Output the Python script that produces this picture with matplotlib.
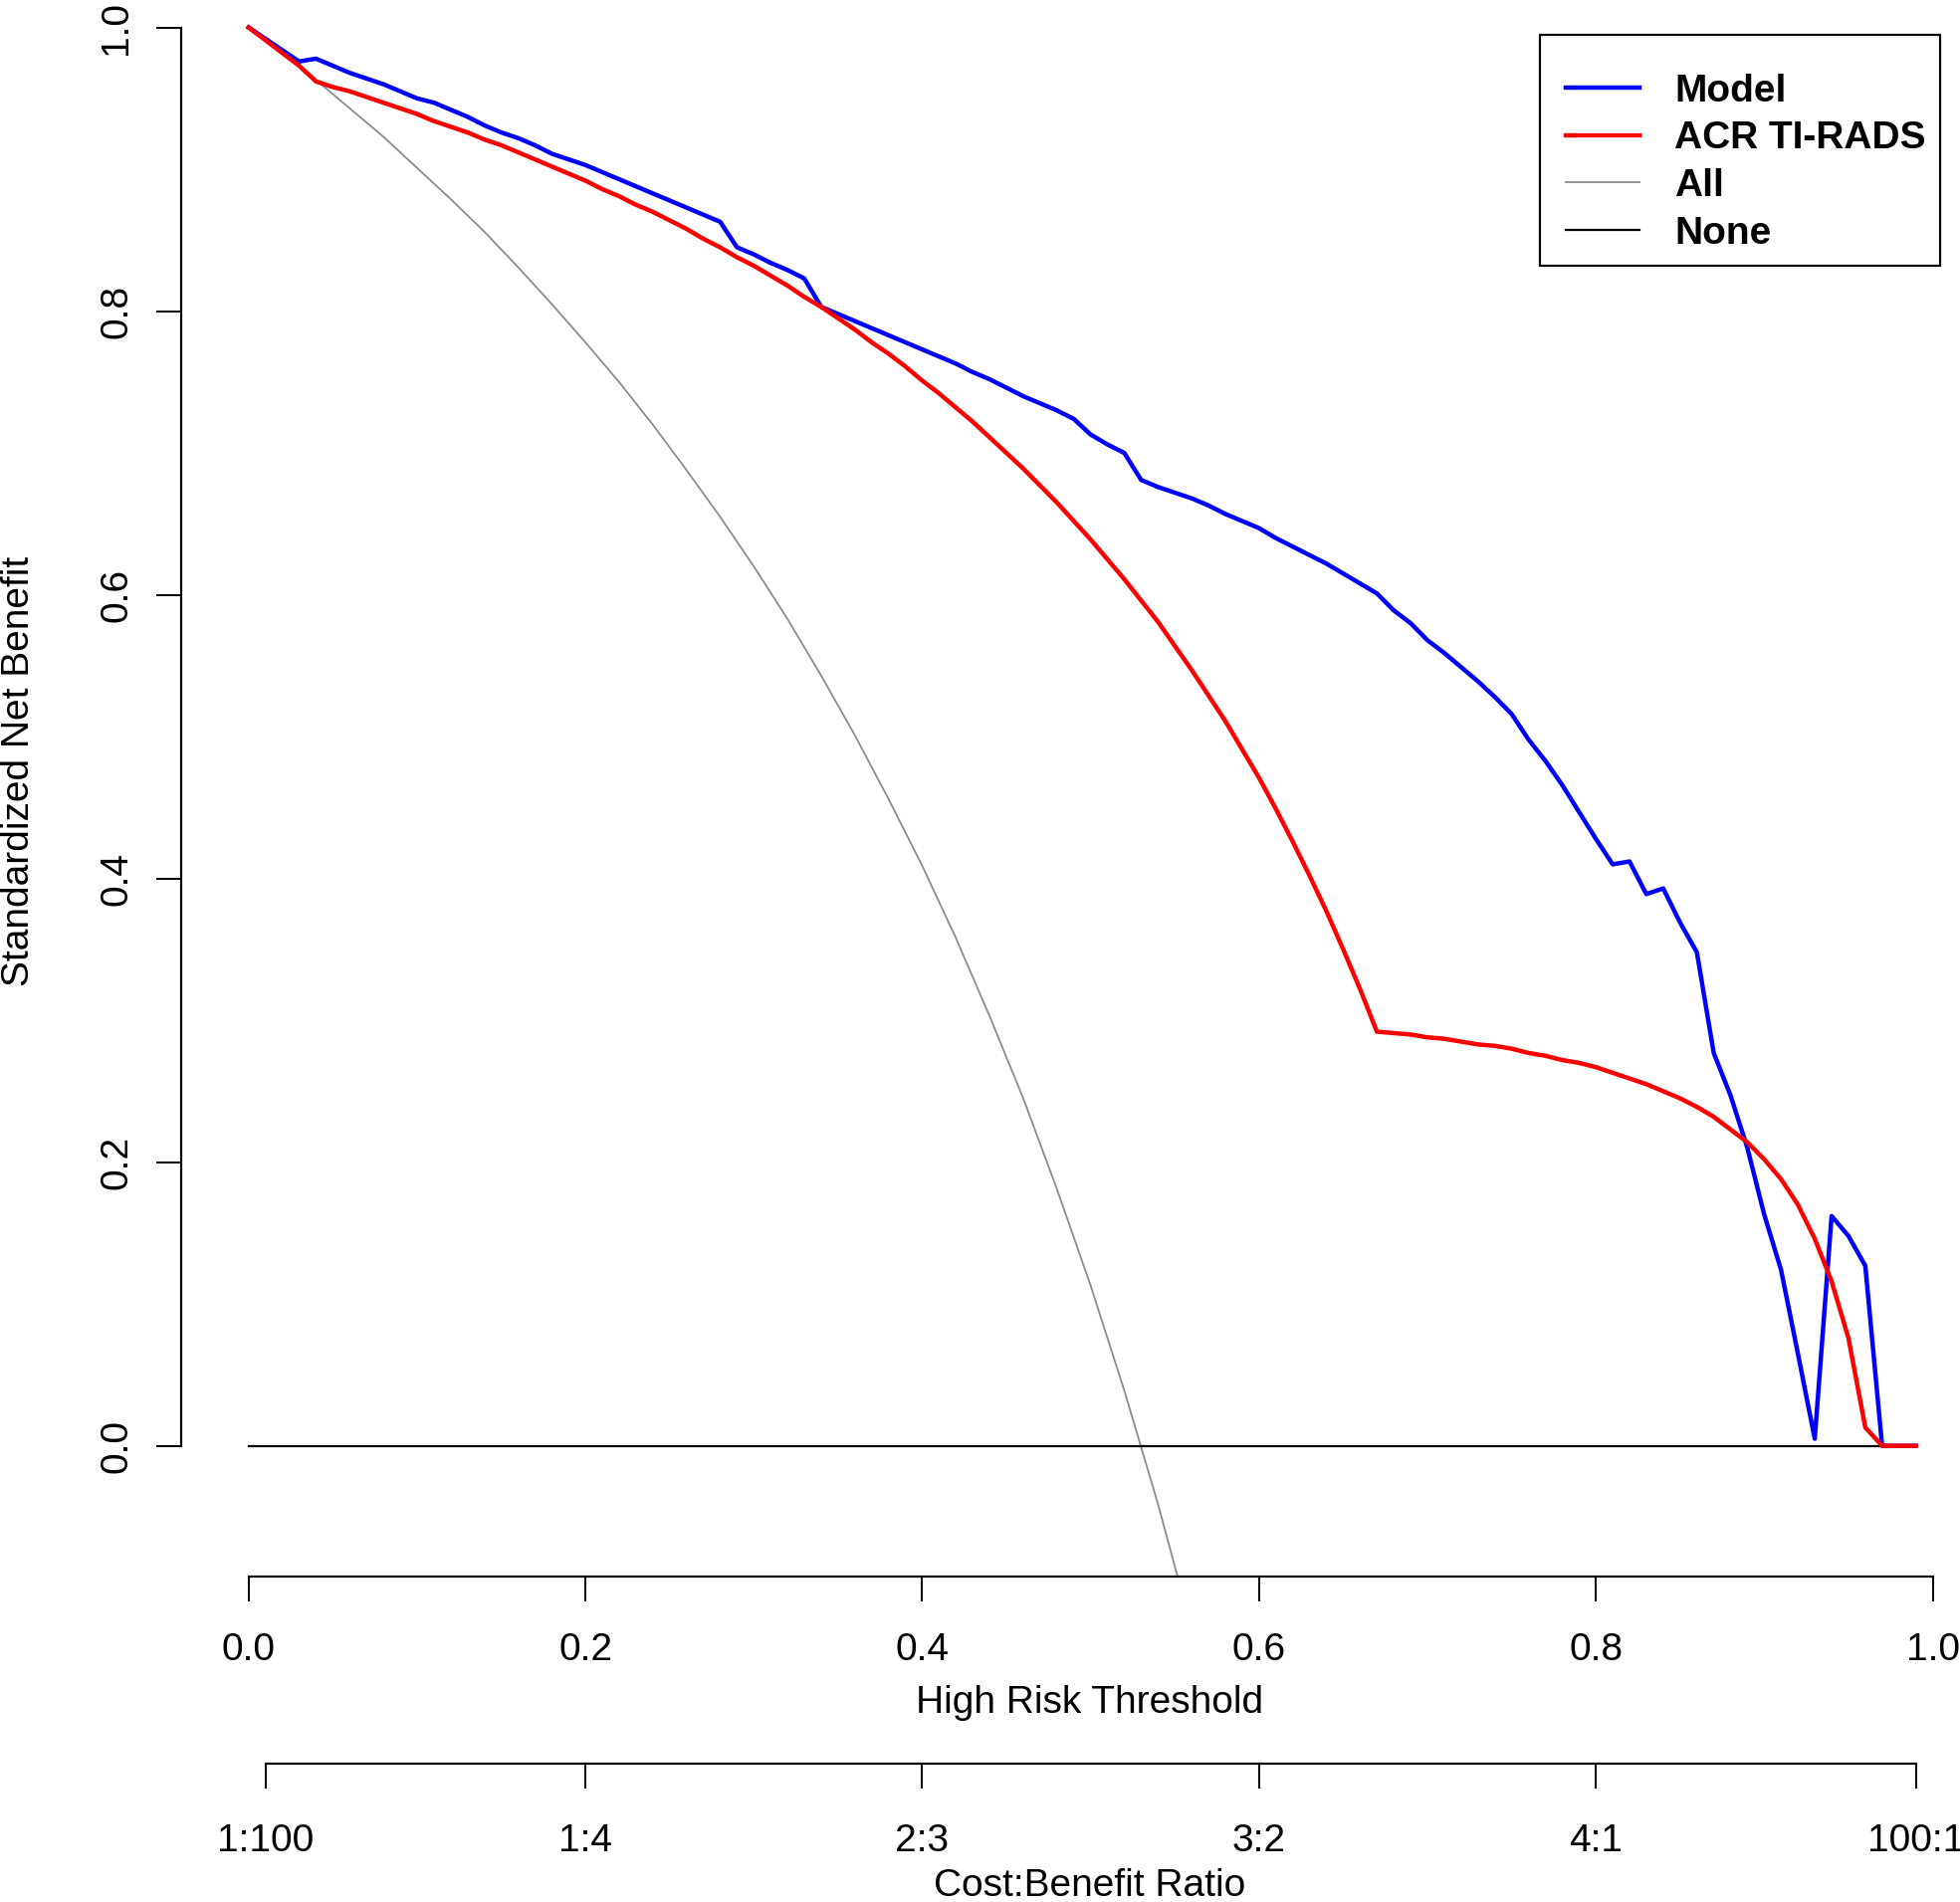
import numpy as np
import matplotlib.pyplot as plt
from matplotlib.patches import Rectangle

plt.rcParams['font.family'] = ['Liberation Sans', 'DejaVu Sans']

# thresholds used by the decision curves (0.00 .. 0.99)
thresholds = np.round(np.arange(0, 1.0, 0.01), 2)

model_nb = [1.000, 0.992, 0.984, 0.976, 0.978, 0.973, 0.968, 0.964, 0.960, 0.955,
            0.950, 0.947, 0.942, 0.937, 0.931, 0.926, 0.922, 0.917, 0.911, 0.907,
            0.903, 0.898, 0.893, 0.888, 0.883, 0.878, 0.873, 0.868, 0.863, 0.845,
            0.840, 0.834, 0.829, 0.823, 0.803, 0.798, 0.793, 0.788, 0.783, 0.778,
            0.773, 0.768, 0.763, 0.757, 0.752, 0.746, 0.740, 0.735, 0.730, 0.724,
            0.713, 0.706, 0.700, 0.681, 0.676, 0.672, 0.668, 0.663, 0.657, 0.652,
            0.647, 0.640, 0.634, 0.628, 0.622, 0.615, 0.608, 0.601, 0.589, 0.580,
            0.568, 0.559, 0.549, 0.539, 0.528, 0.516, 0.498, 0.483, 0.466, 0.447,
            0.428, 0.410, 0.412, 0.389, 0.393, 0.369, 0.348, 0.277, 0.247, 0.210,
            0.163, 0.124, 0.065, 0.005, 0.162, 0.148, 0.127, 0.000, 0.000, 0.000]

acr_nb = [1.000, 0.991, 0.982, 0.973, 0.962, 0.958, 0.955, 0.951, 0.947, 0.943,
          0.939, 0.934, 0.930, 0.926, 0.921, 0.917, 0.912, 0.907, 0.902, 0.897,
          0.892, 0.886, 0.881, 0.875, 0.870, 0.864, 0.858, 0.851, 0.845, 0.838,
          0.832, 0.825, 0.818, 0.810, 0.803, 0.795, 0.787, 0.778, 0.770, 0.761,
          0.751, 0.742, 0.732, 0.722, 0.711, 0.700, 0.689, 0.677, 0.665, 0.652,
          0.639, 0.625, 0.611, 0.596, 0.581, 0.564, 0.547, 0.529, 0.511, 0.491,
          0.471, 0.449, 0.426, 0.402, 0.377, 0.350, 0.322, 0.292, 0.291, 0.290,
          0.288, 0.287, 0.285, 0.283, 0.282, 0.280, 0.277, 0.275, 0.272, 0.270,
          0.267, 0.263, 0.259, 0.255, 0.250, 0.245, 0.239, 0.232, 0.223, 0.214,
          0.202, 0.188, 0.170, 0.146, 0.116, 0.076, 0.013, 0.000, 0.000, 0.000]

all_thresholds = [0.00, 0.02, 0.04, 0.06, 0.08, 0.10, 0.12, 0.14, 0.16, 0.18,
                  0.20, 0.22, 0.24, 0.26, 0.28, 0.30, 0.32, 0.34, 0.36, 0.38,
                  0.40, 0.42, 0.44, 0.46, 0.48, 0.50, 0.52, 0.54, 0.56]
all_nb = [1.000, 0.982, 0.963, 0.943, 0.923, 0.901, 0.879, 0.856, 0.831, 0.805,
          0.778, 0.750, 0.720, 0.688, 0.655, 0.620, 0.583, 0.543, 0.501, 0.456,
          0.409, 0.358, 0.303, 0.245, 0.181, 0.113, 0.039, -0.041, -0.129]

none_thresholds = [0.0, 0.99]
none_nb = [0.0, 0.0]

x_ticks = [0.0, 0.2, 0.4, 0.6, 0.8, 1.0]
x_ticklabels = ['0.0', '0.2', '0.4', '0.6', '0.8', '1.0']
y_ticks = [0.0, 0.2, 0.4, 0.6, 0.8, 1.0]
y_ticklabels = ['0.0', '0.2', '0.4', '0.6', '0.8', '1.0']
cb_ticks = [1 / 101, 0.2, 0.4, 0.6, 0.8, 100 / 101]
cb_labels = ['1:100', '1:4', '2:3', '3:2', '4:1', '100:1']

W, H = 1568.0, 1522.0  # layout measured on a 1568-wide copy of the reference
fig = plt.figure(figsize=(19.69, 19.11), dpi=100)
ax = fig.add_axes([145 / W, 1 - 1261.4 / H, (1600 - 145) / W, (1261.4 + 25.7) / H])

ax.plot(all_thresholds, all_nb, color='#8c8c8c', lw=1.3, label='All')
ax.plot(none_thresholds, none_nb, color='black', lw=1.6, label='None')
ax.plot(thresholds, model_nb, color='#0000ff', lw=3.2, label='Model')
ax.plot(thresholds, acr_nb, color='#ff0000', lw=3.2, label='ACR TI-RADS')

ax.set_xlim(-0.04, 1.04)
ax.set_ylim(-0.092, 1.042)
for s in ['top', 'right']:
    ax.spines[s].set_visible(False)
ax.spines['left'].set_bounds(0, 1)
ax.spines['bottom'].set_bounds(0, 1)
ax.spines['left'].set_linewidth(1.6)
ax.spines['bottom'].set_linewidth(1.6)

ax.set_xticks(x_ticks)
ax.set_xticklabels(x_ticklabels)
ax.set_yticks(y_ticks)
ax.set_yticklabels(y_ticklabels)
ax.tick_params(axis='x', length=18, width=1.4, pad=22.6, labelsize=28)
ax.tick_params(axis='y', length=18, width=1.4, pad=28.7, labelsize=28)
plt.setp(ax.get_yticklabels(), rotation=90, ha='center', va='center')

# cost:benefit axis below
ax2 = fig.add_axes([145 / W, 1 - 1411 / H, (1600 - 145) / W, 0.0001])
ax2.set_xlim(-0.04, 1.04)
ax2.patch.set_visible(False)
for s in ['top', 'right', 'left']:
    ax2.spines[s].set_visible(False)
ax2.spines['bottom'].set_bounds(cb_ticks[0], cb_ticks[-1])
ax2.spines['bottom'].set_linewidth(1.6)
ax2.set_yticks([])
ax2.set_xticks(cb_ticks)
ax2.set_xticklabels(cb_labels)
ax2.tick_params(axis='x', length=18, width=1.4, pad=25.3, labelsize=28)

fig.text(872 / W, 1 - 1363 / H, 'High Risk Threshold', fontsize=28, ha='center', va='center')
fig.text(872 / W, 1 - 1509 / H, 'Cost:Benefit Ratio', fontsize=28, ha='center', va='center')
fig.text(15 / W, 1 - 617.5 / H, 'Standardized Net Benefit', fontsize=28, rotation=90,
         ha='center', va='center')

# legend entries without frame, frame drawn separately (R-style box)
handles, labels = ax.get_legend_handles_labels()
order = [2, 3, 0, 1]
leg = ax.legend([handles[i] for i in order], [labels[i] for i in order],
                loc='center left', bbox_to_anchor=(1253 / W, 1 - 130 / H),
                bbox_transform=fig.transFigure, borderaxespad=0, borderpad=0,
                prop={'weight': 'bold', 'size': 28}, handlelength=1.9,
                handletextpad=0.9, labelspacing=0.3, frameon=False)
fig.patches.append(Rectangle((1232 / W, 1 - 213 / H), (1552 - 1232) / W, (213 - 28) / H,
                             transform=fig.transFigure, fill=False,
                             edgecolor='black', linewidth=1.6, zorder=5))

fig.savefig('out.png', dpi=100)
